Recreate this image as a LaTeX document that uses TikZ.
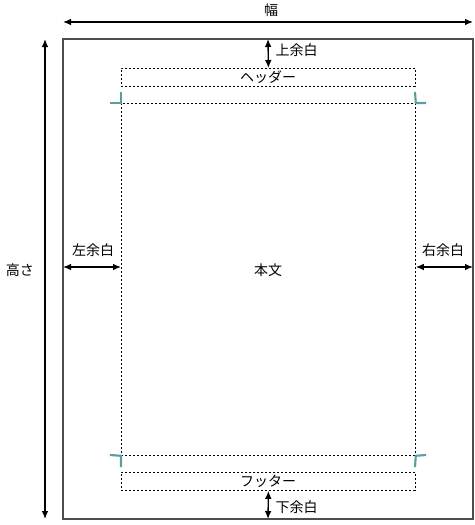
\documentclass[tikz,border=0pt]{standalone}
\usepackage{fontspec}
\setmainfont{Noto Sans CJK JP}
\usetikzlibrary{arrows.meta}
\definecolor{marktl}{HTML}{5A9E9E}
\definecolor{pagegray}{HTML}{4D4D4D}
\tikzset{area/.style = {draw, dashed, dash pattern=on 1.5pt off 1.5pt, line width=0.6pt, inner sep=0, anchor=north west}}
\tikzset{dim/.style = {{Latex[length=6pt,width=5pt]}-{Latex[length=6pt,width=5pt]}, line width=1pt}}
\tikzset{cropmark/.style = {draw=marktl, line width=1.6pt}}
\tikzset{lbl/.style = {font=\fontsize{10.5}{12}\selectfont, inner sep=1pt}}

\begin{document}
\begin{tikzpicture}[x=0.75pt, y=-0.75pt]
    \useasboundingbox (0, 0) rectangle (475, 525);

    % page
    \draw [pagegray, line width=1.5pt] (63, 39) rectangle (473, 519);
    \coordinate (pl) at (63, 267);
    \coordinate (pr) at (473, 267);
    \coordinate (pt) at (268, 39);
    \coordinate (pb) at (268, 519);

    % header, body, footer
    \node [area, minimum width=294*0.75pt, minimum height=18*0.75pt] (header) at (121, 68) {};
    \node [area, minimum width=294*0.75pt, minimum height=352*0.75pt] (body) at (121, 103) {};
    \node [area, minimum width=294*0.75pt, minimum height=18*0.75pt] (footer) at (121, 472) {};

    \node [lbl] (headertext) at (268, 77) {ヘッダー};
    \node [lbl] (footertext) at (268, 481) {フッター};
    \node [lbl] (bodytext) at (268, 270) {本文};

    % crop marks
    \draw [cropmark] (110, 103) -- (body.north west) -- (121, 92);
    \draw [cropmark] (426, 103) -- (body.north east) -- (415, 92);
    \draw [cropmark] (110, 455) -- (body.south west) -- (121, 467);
    \draw [cropmark] (426, 455) -- (body.south east) -- (415, 467);

    % width and height
    \coordinate (wl) at (63, 22);
    \coordinate (wr) at (473, 22);
    \coordinate (ht) at (45, 39);
    \coordinate (hb) at (45, 519);
    \draw [dim] (wl) -- (wr);
    \draw [dim] (ht) -- (hb);
    \node [lbl] (width) at (271, 10) {幅};
    \node [lbl] (height) at (20, 270) {高さ};

    % margins
    \draw [dim] (pt) -- (header.north);
    \draw [dim] (footer.south) -- (pb);
    \draw [dim] (pl) -- (body.west |- pl);
    \draw [dim] (body.east |- pr) -- (pr);
    \node [lbl, anchor=west] (topm) at (274, 50) {上余白};
    \node [lbl, anchor=west] (botm) at (274, 507) {下余白};
    \node [lbl] (leftm) at (93, 250) {左余白};
    \node [lbl] (rightm) at (443, 250) {右余白};
  \end{tikzpicture}
\end{document}
